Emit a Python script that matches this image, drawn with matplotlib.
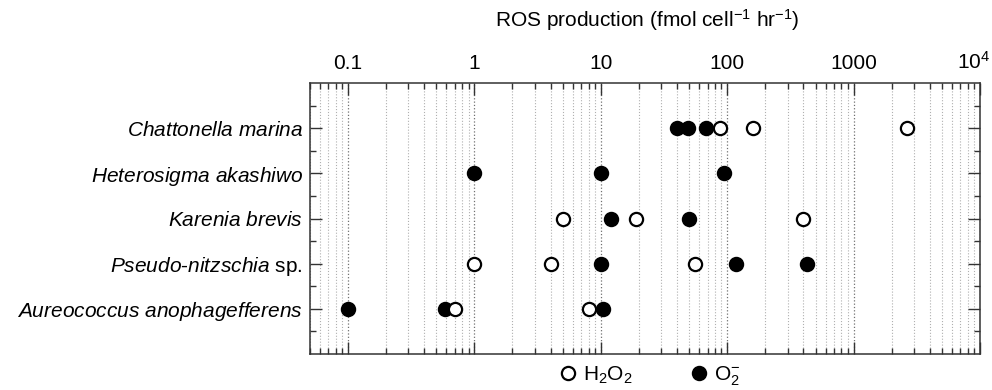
import matplotlib
matplotlib.use("Agg")
import matplotlib.pyplot as plt
import matplotlib.transforms as mtransforms
from matplotlib.ticker import FixedLocator, LogLocator, NullFormatter
from matplotlib.lines import Line2D

plt.rcParams['font.family'] = ['Liberation Sans', 'DejaVu Sans']
plt.rcParams['mathtext.fontset'] = 'custom'
plt.rcParams['mathtext.rm'] = 'Liberation Sans'
plt.rcParams['mathtext.it'] = 'Liberation Sans:italic'

species = [r"$\mathit{Chattonella\ marina}$",
           r"$\mathit{Heterosigma\ akashiwo}$",
           r"$\mathit{Karenia\ brevis}$",
           r"$\mathit{Pseudo}$-$\mathit{nitzschia}$ sp.",
           r"$\mathit{Aureococcus\ anophagefferens}$"]

# values (fmol cell-1 hr-1)
h2o2 = [[87, 161, 2630],
        [],
        [5, 19, 395],
        [1, 4, 56],
        [0.7, 8]]
o2 = [[40, 49, 68],
      [1, 10, 95],
      [12, 50],
      [10, 117, 426],
      [0.1, 0.59, 10.4]]

xticks = [0.1, 1, 10, 100, 1000, 10000]
xticklabels = ['0.1', '1', '10', '100', '1000', '10$^4$']

fs = 15

fig = plt.figure(figsize=(9.92, 3.9), dpi=100)
ax = fig.add_axes([310/992, 1-354/390, 670/992, 271/390])

n = len(species)
for i in range(n):
    y = n - 1 - i
    pts = [(v, 'h') for v in h2o2[i]] + [(v, 'o') for v in o2[i]]
    pts.sort()
    for k, (v, kind) in enumerate(pts):
        face = 'white' if kind == 'h' else 'black'
        ax.plot([v], [y], marker='o', ms=9.5, mfc=face, mec='black',
                mew=1.6, ls='none', zorder=3 + k * 0.01)

ax.set_xscale('log')
ax.set_xlim(0.05, 10000)
ax.set_ylim(-1, n)

ax.xaxis.set_major_locator(FixedLocator(xticks))
ax.set_xticklabels(xticklabels)
ax.xaxis.set_minor_locator(LogLocator(base=10, subs=range(2, 10), numticks=20))
ax.xaxis.set_minor_formatter(NullFormatter())

ax.set_yticks(range(n))
ax.set_yticklabels(species[::-1])
ax.set_yticks([k + 0.5 for k in range(-1, n)], minor=True)

ax.tick_params(which='both', direction='in', top=True, bottom=True,
               left=True, right=True, labeltop=True, labelbottom=False,
               labelsize=fs, width=1, color='#333333')
ax.tick_params(which='major', length=8.5, pad=7)
ax.tick_params(which='minor', length=4.3)
ax.tick_params(axis='y', which='major', pad=5)

# pull the 10^4 label a little inside the figure
lab = ax.get_xticklabels(which='major')[-1]
lab.set_transform(lab.get_transform() +
                  mtransforms.ScaledTranslation(-6/100, 0, fig.dpi_scale_trans))

ax.grid(True, axis='x', which='minor', ls=':', lw=0.8, color='#b0b0b0')
ax.grid(True, axis='x', which='major', ls=':', lw=0.9, color='#707070')
ax.set_axisbelow(True)
for s in ax.spines.values():
    s.set_linewidth(1.1)
    s.set_color('#333333')

fig.text(647/992, 1-20/390, r'ROS production (fmol cell$^{-1}$ hr$^{-1}$)',
         ha='center', va='center', fontsize=fs)

handles = [Line2D([], [], marker='o', ls='none', ms=9.5, mfc='white', mec='black', mew=1.6),
           Line2D([], [], marker='o', ls='none', ms=9.5, mfc='black', mec='black', mew=1.6)]
fig.legend(handles, ['H$_2$O$_2$', 'O$_2^{-}$'], loc='center',
           bbox_to_anchor=(648/992, 1-376/390), ncol=2, frameon=False,
           fontsize=fs, handletextpad=0.1, columnspacing=2.6, handlelength=1.2)

fig.savefig('out.png', dpi=100)
